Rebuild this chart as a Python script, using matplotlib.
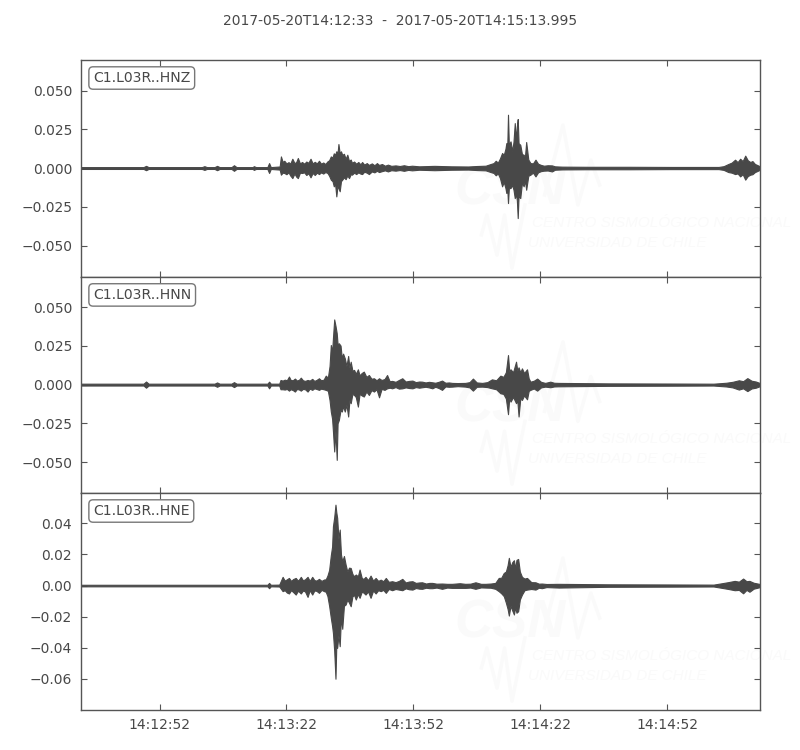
import matplotlib
matplotlib.use("Agg")
import matplotlib.pyplot as plt

# -------------------------------
# Envelope of each trace (seconds after 14:12:33)
# -------------------------------
t_hnz = [0, 15.2, 15.8, 16.4, 29, 29.6, 30.2, 32, 32.6, 33.2, 36, 36.6, 37.2, 41, 41.3, 41.8, 44.5, 44.9, 45.3,
         47.4, 47.7, 48.1, 48.5, 49.0, 49.5, 49.9, 50.4, 50.9, 51.3,
         51.7, 52.2, 52.7, 53.2, 53.7, 54.2, 54.7, 55.2, 55.7, 56.2,
         56.7, 57.2, 57.7, 58.2, 58.7, 59.1, 59.5, 59.9, 60.2, 60.5,
         60.8, 61.1, 61.3, 61.6, 61.9, 62.2, 62.6, 63.0, 63.4, 63.8,
         64.2, 64.5, 65.0, 65.5, 66.0, 66.5, 66.9, 67.4, 68.0, 68.5,
         69.2, 69.8, 70.4, 70.9, 71.6, 72.3, 73.0, 73.8, 74.8, 75.8,
         76.8, 77.8, 78.7,
         80.4, 84, 88, 92, 94, 96.1, 97.3, 98.0, 98.5, 99.0,
         99.5, 100, 100.4, 100.8, 101, 101.2, 101.4, 101.6, 102, 102.4,
         102.7, 103, 103.3, 103.5, 103.7, 103.9, 104.3, 104.7, 105.1, 105.4,
         105.7, 106.2, 106.7, 107.3, 107.9, 108.5, 109.2, 109.9, 110.8, 111.8,
         112.5, 114.2, 120, 130, 140, 151.2, 152.4, 153.5, 154.3, 155.1,
         155.7, 156.3, 156.9, 157.5, 158.1, 158.7, 159.2, 159.8, 160.3, 160.99]
up_hnz = [.0006, .0006, .0014, .0006, .0006, .0012, .0006, .0006, .0014, .0006, .0006, .0018, .0006, .0006, .0012, .0006, .0006, .0032, .0006,
          .0010, .0075, .0040, .0047, .0030, .0038, .0028, .0060, .0032, .0038,
          .0065, .0030, .0039, .0028, .0042, .0034, .0060, .0030, .0040, .0030,
          .0047, .0028, .0036, .0026, .0043, .0050, .0075, .0068, .0095, .0085,
          .0108, .0100, .0155, .0095, .0108, .0085, .0092, .0060, .0086, .0045,
          .0055, .0034, .0042, .0028, .0039, .0024, .0039, .0022, .0032, .0020,
          .0030, .0018, .0032, .0020, .0026, .0015, .0022, .0014, .0017, .0013,
          .0018, .0012, .0015,
          .0011, .0014, .0011, .0010, .0013, .0015, .0026, .0032, .0047, .0035,
          .0062, .0097, .0085, .0125, .0161, .0110, .0344, .0150, .0172, .0110,
          .0170, .0290, .0180, .0270, .0316, .0160, .0150, .0090, .0086, .0070,
          .0168, .0055, .0032, .0030, .0054, .0028, .0020, .0015, .0018, .0017,
          .0011, .0009, .0008, .0008, .0007, .0007, .0012, .0026, .0035, .0054,
          .0038, .0060, .0045, .0080, .0050, .0039, .0045, .0026, .0020, .0011]
low_hnz = [-.0006, -.0006, -.0014, -.0006, -.0006, -.0012, -.0006, -.0006, -.0014, -.0006, -.0006, -.0018, -.0006, -.0006, -.0012, -.0006, -.0006, -.0032, -.0006,
           -.0010, -.0043, -.0030, -.0032, -.0040, -.0028, -.0048, -.0065, -.0035, -.0055,
           -.0065, -.0030, -.0032, -.0028, -.0045, -.0034, -.0060, -.0032, -.0045, -.0030,
           -.0039, -.0028, -.0036, -.0026, -.0032, -.0050, -.0075, -.0085, -.0118, -.0100,
           -.0183, -.0110, -.0129, -.0150, -.0085, -.0075, -.0060, -.0072, -.0048, -.0065,
           -.0040, -.0043, -.0030, -.0039, -.0028, -.0036, -.0039, -.0024, -.0030, -.0039,
           -.0022, -.0028, -.0018, -.0026, -.0020, -.0015, -.0022, -.0014, -.0017, -.0013,
           -.0018, -.0012, -.0015,
           -.0011, -.0014, -.0011, -.0010, -.0013, -.0015, -.0026, -.0032, -.0047, -.0035,
           -.0065, -.0118, -.0090, -.0130, -.0161, -.0120, -.0226, -.0130, -.0129, -.0110,
           -.0140, -.0194, -.0170, -.0210, -.0323, -.0180, -.0194, -.0095, -.0118, -.0080,
           -.0140, -.0050, -.0043, -.0030, -.0054, -.0028, -.0020, -.0017, -.0016, -.0022,
           -.0011, -.0009, -.0008, -.0008, -.0007, -.0007, -.0012, -.0026, -.0030, -.0039,
           -.0035, -.0054, -.0040, -.0075, -.0052, -.0043, -.0040, -.0026, -.0020, -.0011]

t_hnn = [0, 15.2, 15.8, 16.4, 32, 32.6, 33.2, 36, 36.6, 37.2, 44.5, 44.9, 45.3, 47.3,
         47.6, 48.1, 48.6, 49.1, 49.6, 50.0, 50.5, 51.0, 51.5, 52.0,
         52.4, 52.9, 53.4, 54, 54.5, 55.1, 55.6, 56.1, 56.7, 57.2,
         57.8, 58.3, 58.8, 59.2, 59.5, 59.8, 60.0, 60.3, 60.6, 60.9,
         61.1, 61.4, 61.8, 62.1, 62.4, 62.8, 63.2, 63.6, 63.9, 64.2,
         64.6, 65, 65.4, 65.9, 66.3, 66.8, 67.3, 67.9, 68.5, 69.1,
         69.7, 70.3, 70.9, 71.5, 72.2, 72.8, 73.4, 74, 74.8, 75.6,
         76.4, 77.2, 78, 78.8, 79.6, 80.4, 81.1, 81.9, 82.7, 83.5,
         84.2, 85, 85.8, 86.6, 87.4, 88.2, 89.5, 91.3, 92.3, 93.1,
         94, 95.3, 96.5, 97.6, 98.6, 99.6, 100.3, 100.9, 101.4, 101.7,
         102, 102.6, 103.3, 103.6, 103.9, 104.3, 104.7, 105.2, 105.9, 106.3,
         106.7, 107.5, 108.3, 109.2, 110.2, 111.4, 112.3, 113.4,
         125, 140, 150, 153, 154.5, 156, 157, 158, 159, 160, 160.99]
up_hnn = [.0006, .0006, .0020, .0006, .0006, .0014, .0006, .0006, .0016, .0006, .0006, .0019, .0006, .0006,
          .0030, .0026, .0032, .0028, .0052, .0030, .0028, .0039, .0026, .0032,
          .0045, .0028, .0024, .0030, .0026, .0037, .0024, .0030, .0041, .0028,
          .0032, .0058, .0045, .0120, .0256, .0210, .0300, .0421, .0380, .0331,
          .0260, .0267, .0252, .0170, .0200, .0170, .0120, .0185, .0110, .0148,
          .0090, .0095, .0070, .0099, .0060, .0075, .0084, .0050, .0062, .0038,
          .0041, .0028, .0041, .0030, .0036, .0062, .0022, .0024, .0018, .0030,
          .0041, .0020, .0024, .0026, .0016, .0020, .0019, .0014, .0018, .0015,
          .0012, .0018, .0026, .0012, .0014, .0011, .0010, .0011, .0016, .0039,
          .0014, .0011, .0016, .0034, .0028, .0058, .0050, .0080, .0191, .0085,
          .0099, .0080, .0148, .0090, .0112, .0080, .0105, .0075, .0099, .0040,
          .0019, .0025, .0039, .0018, .0011, .0019, .0012, .0011,
          .0008, .0007, .0006, .0012, .0018, .0028, .0022, .0042, .0025, .0020, .0010]
low_hnn = [-.0006, -.0006, -.0020, -.0006, -.0006, -.0014, -.0006, -.0006, -.0016, -.0006, -.0006, -.0024, -.0006, -.0006,
           -.0030, -.0030, -.0032, -.0028, -.0039, -.0030, -.0035, -.0045, -.0028, -.0032,
           -.0039, -.0028, -.0030, -.0045, -.0026, -.0034, -.0024, -.0028, -.0034, -.0026,
           -.0030, -.0034, -.0040, -.0100, -.0174, -.0220, -.0300, -.0432, -.0300, -.0486,
           -.0250, -.0228, -.0163, -.0174, -.0140, -.0174, -.0130, -.0206, -.0100, -.0120,
           -.0060, -.0067, -.0080, -.0142, -.0060, -.0070, -.0077, -.0045, -.0067, -.0036,
           -.0045, -.0030, -.0082, -.0028, -.0034, -.0024, -.0020, -.0024, -.0016, -.0026,
           -.0024, -.0018, -.0022, -.0024, -.0016, -.0020, -.0017, -.0014, -.0018, -.0024,
           -.0014, -.0022, -.0034, -.0012, -.0014, -.0013, -.0010, -.0013, -.0018, -.0039,
           -.0014, -.0013, -.0016, -.0024, -.0030, -.0056, -.0060, -.0090, -.0191, -.0085,
           -.0110, -.0080, -.0120, -.0100, -.0206, -.0090, -.0099, -.0070, -.0095, -.0040,
           -.0034, -.0025, -.0039, -.0018, -.0013, -.0017, -.0012, -.0011,
           -.0008, -.0007, -.0006, -.0012, -.0018, -.0032, -.0024, -.0042, -.0025, -.0020, -.0010]

t_hne = [0, 44.5, 44.9, 45.3, 47.3,
         48.1, 48.6, 49.1, 49.6, 50.1, 50.6, 51.2, 51.7, 52.0, 52.4,
         52.9, 53.4, 54, 54.5, 55.1, 55.6, 56.1, 56.7, 57.3, 57.9,
         58.3, 58.7, 59.1, 59.5, 59.8, 60, 60.3, 60.6, 60.8, 61,
         61.3, 61.6, 61.9, 62.2, 62.6, 63, 63.4, 63.8, 64.2, 64.6,
         65, 65.4, 65.9, 66.3, 66.8, 67.2, 67.7, 68.3, 68.9, 69.5,
         70.1, 70.7, 71.3, 71.9, 72.5, 73.2, 74, 74.8, 75.6, 76.4,
         77.2, 78, 78.8, 79.6, 80.4, 81.1, 82, 82.8, 83.5, 84.5,
         85.8, 87, 88.2, 90, 91.3, 92.5, 93.7, 95, 96.1, 97.3,
         98.4, 99.2, 99.8, 100.4, 100.9, 101.3, 101.6, 102, 102.4, 102.8,
         103.1, 103.4, 103.8, 104.2, 104.7, 105.3, 105.9, 106.9, 107.9, 108.7,
         109.4, 110.5, 113.4, 125, 140, 150, 152, 153.5, 155, 156,
         157, 157.8, 158.5, 159.5, 160.99]
up_hne = [.0005, .0005, .0017, .0005, .0006,
          .0056, .0032, .0040, .0049, .0030, .0042, .0049, .0032, .0040, .0056,
          .0034, .0040, .0056, .0030, .0056, .0035, .0032, .0043, .0030, .0039,
          .0040, .0064, .0100, .0195, .0250, .0381, .0440, .0520, .0470, .0435,
          .0300, .0360, .0200, .0156, .0190, .0135, .0090, .0115, .0113, .0075,
          .0060, .0071, .0060, .0103, .0050, .0042, .0056, .0035, .0064, .0032,
          .0049, .0030, .0038, .0028, .0049, .0024, .0028, .0022, .0030, .0043,
          .0020, .0026, .0028, .0017, .0020, .0021, .0013, .0017, .0017, .0012,
          .0013, .0011, .0011, .0015, .0011, .0012, .0021, .0011, .0011, .0013,
          .0017, .0049, .0050, .0081, .0090, .0130, .0178, .0120, .0150, .0163,
          .0110, .0165, .0171, .0090, .0056, .0045, .0049, .0022, .0021, .0012,
          .0013, .0010, .0011, .0008, .0007, .0006, .0015, .0022, .0030, .0025,
          .0045, .0028, .0030, .0018, .0010]
low_hne = [-.0005, -.0005, -.0017, -.0005, -.0006,
           -.0036, -.0030, -.0045, -.0051, -.0030, -.0042, -.0058, -.0034, -.0040, -.0051,
           -.0032, -.0038, -.0073, -.0030, -.0058, -.0032, -.0034, -.0047, -.0028, -.0036,
           -.0040, -.0068, -.0130, -.0208, -.0260, -.0304, -.0420, -.0599, -.0380, -.0400,
           -.0320, -.0390, -.0200, -.0278, -.0130, -.0122, -.0090, -.0110, -.0133, -.0070,
           -.0060, -.0090, -.0055, -.0079, -.0040, -.0045, -.0058, -.0038, -.0079, -.0032,
           -.0051, -.0030, -.0036, -.0028, -.0047, -.0022, -.0030, -.0022, -.0026, -.0030,
           -.0018, -.0024, -.0026, -.0016, -.0020, -.0021, -.0014, -.0017, -.0017, -.0013,
           -.0021, -.0013, -.0015, -.0015, -.0015, -.0013, -.0021, -.0012, -.0013, -.0014,
           -.0021, -.0036, -.0050, -.0068, -.0110, -.0150, -.0193, -.0130, -.0160, -.0186,
           -.0140, -.0175, -.0165, -.0090, -.0058, -.0030, -.0026, -.0022, -.0026, -.0014,
           -.0017, -.0010, -.0013, -.0008, -.0007, -.0006, -.0015, -.0022, -.0030, -.0028,
           -.0050, -.0028, -.0040, -.0020, -.0010]

station_labels = ["C1.L03R..HNZ", "C1.L03R..HNN", "C1.L03R..HNE"]
title_text = "2017-05-20T14:12:33  -  2017-05-20T14:15:13.995"
tick_seconds = [19, 49, 79, 109, 139]
tick_labels = ["14:12:52", "14:13:22", "14:13:52", "14:14:22", "14:14:52"]
y_ticks_12 = [-0.050, -0.025, 0.000, 0.025, 0.050]
y_ticks_3 = [-0.06, -0.04, -0.02, 0.00, 0.02, 0.04]

TRACE = "#484848"
FRAME = "#555555"
WATERMARK = "#fafafa"
LOGO_FONT = "Liberation Sans"

# -------------------------------
# Layout
# -------------------------------
fig = plt.figure(figsize=(8, 7.5), dpi=100)
panels = [
    (t_hnz, up_hnz, low_hnz, (-0.0703, 0.0697), y_ticks_12, "%.3f", 60, 277),
    (t_hnn, up_hnn, low_hnn, (-0.0700, 0.0695), y_ticks_12, "%.3f", 277, 493),
    (t_hne, up_hne, low_hne, (-0.0800, 0.0595), y_ticks_3, "%.2f", 493, 710),
]

for i, (t, up, low, ylim, yticks, fmt, top_px, bot_px) in enumerate(panels):
    ax = fig.add_axes([80.5 / 800, 1 - bot_px / 750, 679.5 / 800, (bot_px - top_px) / 750])

    # faint logo behind the trace
    ax.text(0.55, 0.332, "CSN", transform=ax.transAxes, color=WATERMARK, fontsize=38,
            family=LOGO_FONT, style="italic", weight="bold", ha="left", va="baseline", zorder=0)
    ax.text(0.665, 0.25, "CENTRO SISMOLÓGICO NACIONAL", transform=ax.transAxes, color=WATERMARK,
            family=LOGO_FONT, fontsize=11, style="italic", ha="left", va="center", zorder=0)
    ax.text(0.658, 0.157, "UNIVERSIDAD DE CHILE", transform=ax.transAxes, color=WATERMARK,
            family=LOGO_FONT, fontsize=11, style="italic", ha="left", va="center", zorder=0)
    ax.plot([0.683, 0.71, 0.732, 0.751, 0.764], [0.378, 0.70, 0.332, 0.539, 0.424],
            transform=ax.transAxes, color=WATERMARK, lw=2.5, zorder=0)
    ax.plot([0.59, 0.598, 0.613, 0.624, 0.635, 0.654], [0.194, 0.286, 0.101, 0.286, 0.041, 0.332],
            transform=ax.transAxes, color=WATERMARK, lw=2.5, zorder=0)

    ax.fill_between(t, low, up, color=TRACE, lw=0.8, zorder=2)

    ax.set_xlim(0.3, 160.995)
    ax.set_ylim(*ylim)
    ax.set_yticks(yticks)
    ax.set_yticklabels([(fmt % v).replace("-", "\u2212") for v in yticks])
    ax.set_xticks(tick_seconds)
    if i == 2:
        ax.set_xticklabels(tick_labels)
    else:
        ax.set_xticklabels([])
    ax.tick_params(direction="in", top=True, right=True, length=4, width=0.8,
                   color=FRAME, labelcolor=TRACE, labelsize=10, pad=6)
    for s in ax.spines.values():
        s.set_color(FRAME)
        s.set_linewidth(1.0)

    ax.text(0.0185, 0.917, station_labels[i], transform=ax.transAxes, color=TRACE, fontsize=10.1,
            ha="left", va="center", zorder=5,
            bbox=dict(boxstyle="round,pad=0.3", fc="white", ec="#777777", lw=1.0))

fig.text(0.5, 1 - 21 / 750, title_text, color=TRACE, fontsize=10, ha="center", va="center")

fig.savefig("out.png", dpi=100)
